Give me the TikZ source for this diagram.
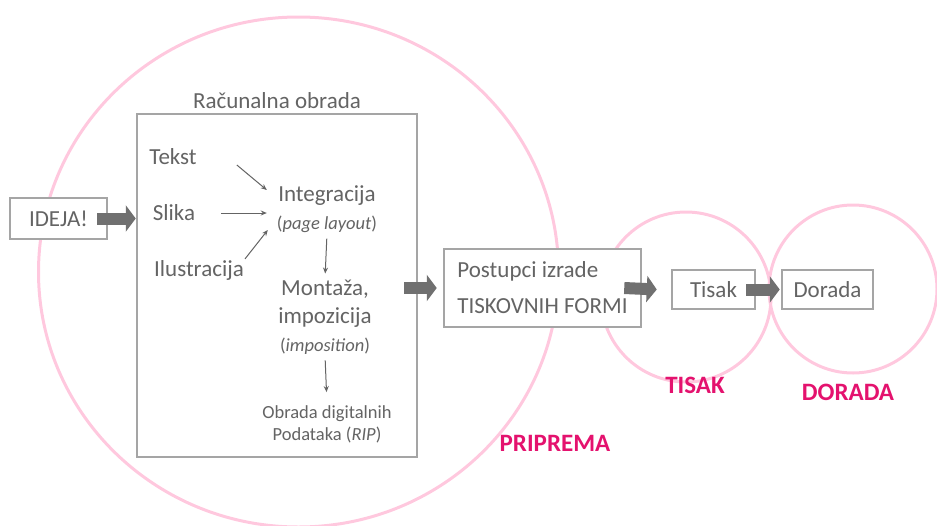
\documentclass[tikz,border=0pt]{standalone}
\usepackage{fontspec}
\setmainfont{Carlito}
\usetikzlibrary{arrows.meta,positioning}

\definecolor{boxgray}{RGB}{165,165,165}
\definecolor{txtgray}{RGB}{100,100,100}
\definecolor{arrgray}{RGB}{112,112,112}
\definecolor{ringpink}{RGB}{255,200,222}
\definecolor{phasepink}{RGB}{228,18,110}
\newcommand{\minorfont}{\fontsize{18.5}{22}\selectfont}

\tikzset{
  ring/.style={draw=ringpink,line width=3pt},
  stagebox/.style={draw=boxgray,line width=2.5pt,fill=white,text=txtgray,
    font=\fontsize{23}{27}\selectfont,inner sep=0pt},
  bigarrow/.style={draw=arrgray,line width=12pt,-{Triangle[length=10pt,width=26pt]}},
  thinarrow/.style={draw=txtgray,line width=1pt,-{Stealth[length=6pt,width=5pt]}},
  lbl/.style={text=txtgray,font=\fontsize{23}{28}\selectfont,inner sep=1pt,align=center},
  phase/.style={text=phasepink,font=\bfseries\fontsize{25}{30}\selectfont}
}

\begin{document}
\begin{tikzpicture}[x=1pt,y=-1pt]
  \useasboundingbox (0,0) rectangle (937,525);

  \draw[ring] (298.5,272) ellipse [x radius=260pt,y radius=255pt];
  \draw[ring] (686,297) circle [radius=85pt];
  \draw[ring] (853,289) circle [radius=84pt];

  \node[stagebox,minimum width=97pt,minimum height=41pt] (ideja) at (58.5,218.5) {IDEJA!};
  \node[stagebox,minimum width=280pt,minimum height=343pt] (comp) at (277,285.5) {};
  \node[lbl,above=3pt of comp] (compname) {Računalna obrada};
  \node[stagebox,align=left,inner xsep=12pt,minimum width=197pt,minimum height=78pt] (forme) at (542.5,288)
    {Postupci izrade\\[9pt]TISKOVNIH FORMI};
  \node[stagebox,minimum width=83pt,minimum height=39pt] (tisak) at (713.5,289.5) {Tisak};
  \node[stagebox,minimum width=91pt,minimum height=39pt] (dorada) at (827.5,289.5) {Dorada};

  \node[lbl] (tekst) at (173,157) {Tekst};
  \node[lbl] (slika) at (174,213) {Slika};
  \node[lbl] (ilus) at (199,270) {Ilustracija};
  \node[lbl] (integ) at (327,209) {Integracija\\{\minorfont(\textit{page layout})}};
  \node[lbl] (montaza) at (325,317) {Montaža,\\impozicija\\{\minorfont(\textit{imposition})}};
  \node[lbl,font=\minorfont] (obrada) at (327,424) {Obrada digitalnih\\Podataka (\textit{RIP})};

  \draw[thinarrow] ([shift={(39,8)}]tekst.east) -- ([shift={(-9,-19)}]integ.west);
  \draw[thinarrow] ([shift={(25,0)}]slika.east) -- ([shift={(-9,4)}]integ.west);
  \draw[thinarrow] (ilus.north east) -- ([shift={(-8,21)}]integ.west);
  \draw[thinarrow,shorten <=5pt,shorten >=5pt] (integ.south) -- (montaza.north);
  \draw[thinarrow,shorten <=5pt,shorten >=12pt] (montaza.south) -- (obrada.north);

  \draw[bigarrow] ([xshift=-11pt]ideja.east) -- (ideja.east -| comp.west);
  \draw[bigarrow] ([xshift=-14pt]forme.west -| comp.east) -- ([xshift=-6pt]forme.west);
  \draw[bigarrow] ([xshift=-18pt]forme.east) -- ([xshift=-14pt]tisak.west);
  \draw[bigarrow] ([xshift=-10pt]tisak.east) -- ([xshift=-1pt]dorada.west);

  \node[phase] (priprema) at (555,443) {PRIPREMA};
  \node[phase] (tisakfaza) at (695,385) {TISAK};
  \node[phase] (doradafaza) at (848,392) {DORADA};
\end{tikzpicture}
\end{document}
